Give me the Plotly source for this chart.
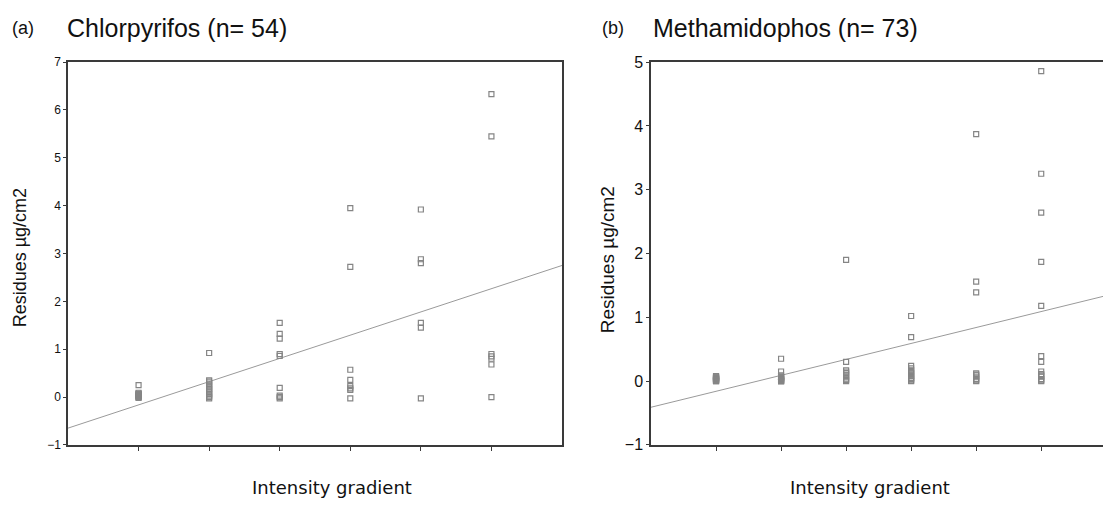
import plotly.graph_objects as go

W, H = 1103, 508

# ---- data: (a) Chlorpyrifos ----
grad_levels = [1, 2, 3, 4, 5, 6]
chl_g1 = [0.25, 0.09, 0.07, 0.06, 0.05, 0.04, 0.03, 0.02, 0.01, 0.0, -0.02]
chl_g2 = [0.92, 0.35, 0.32, 0.28, 0.24, 0.2, 0.17, 0.14, 0.1, 0.06, 0.03, 0.0, -0.03]
chl_g3 = [1.55, 1.32, 1.22, 0.9, 0.86, 0.19, 0.03, 0.0, -0.03]
chl_g4 = [3.95, 2.72, 0.57, 0.36, 0.23, 0.18, 0.15, -0.03]
chl_g5 = [3.92, 2.88, 2.8, 1.55, 1.45, -0.03]
chl_g6 = [6.33, 5.45, 0.9, 0.85, 0.8, 0.68, 0.0]
chl_fit_x = [0, 7]
chl_fit_y = [-0.65, 2.75]

# ---- data: (b) Methamidophos ----
met_g1 = [0.08, 0.07, 0.06, 0.05, 0.05, 0.04, 0.03, 0.03, 0.02, 0.01, 0.01, 0.0, 0.0]
met_g2 = [0.35, 0.15, 0.09, 0.07, 0.06, 0.05, 0.04, 0.03, 0.02, 0.01, 0.0, 0.0, 0.0]
met_g3 = [1.9, 0.3, 0.17, 0.15, 0.13, 0.1, 0.07, 0.04, 0.02, 0.0]
met_g4 = [1.02, 0.69, 0.24, 0.2, 0.17, 0.14, 0.12, 0.1, 0.08, 0.05, 0.03, 0.01, 0.0]
met_g5 = [3.87, 1.56, 1.39, 0.12, 0.1, 0.09, 0.06, 0.03, 0.01, 0.0]
met_g6 = [4.86, 3.25, 2.64, 1.87, 1.18, 0.39, 0.3, 0.15, 0.11, 0.09, 0.07, 0.03, 0.01, 0.0]
met_fit_x = [0, 7]
met_fit_y = [-0.41, 1.34]

title_a = "Chlorpyrifos (n= 54)"
title_b = "Methamidophos (n= 73)"
y_title = "Residues µg/cm2"
x_title = "Intensity gradient"


def flatten(groups):
    xs, ys = [], []
    for lvl, g in zip(grad_levels, groups):
        xs += [lvl] * len(g)
        ys += g
    return xs, ys


ax_x, ax_y = flatten([chl_g1, chl_g2, chl_g3, chl_g4, chl_g5, chl_g6])
bx_x, bx_y = flatten([met_g1, met_g2, met_g3, met_g4, met_g5, met_g6])

MK = dict(symbol="square-open", size=5, color="#858585", line=dict(width=1.2, color="#858585"))
LN = dict(color="#9a9a9a", width=1)

fig = go.Figure()
fig.add_trace(go.Scatter(x=chl_fit_x, y=chl_fit_y, mode="lines", line=LN,
                         xaxis="x", yaxis="y", hoverinfo="skip"))
fig.add_trace(go.Scatter(x=ax_x, y=ax_y, mode="markers", marker=MK, xaxis="x", yaxis="y"))
fig.add_trace(go.Scatter(x=met_fit_x, y=met_fit_y, mode="lines", line=LN,
                         xaxis="x2", yaxis="y2", hoverinfo="skip"))
fig.add_trace(go.Scatter(x=bx_x, y=bx_y, mode="markers", marker=MK, xaxis="x2", yaxis="y2"))

AXC = "#3a3a3a"
ydom = [56 / H, 452 / H]
common_x = dict(showgrid=False, zeroline=False, showline=True, linecolor=AXC, linewidth=1.5,
                ticks="outside", ticklen=4, tickcolor=AXC, tickvals=grad_levels,
                showticklabels=False, fixedrange=True)
common_y = dict(showgrid=False, zeroline=False, showline=True, linecolor=AXC, linewidth=1.5,
                ticks="outside", ticklen=3, tickcolor=AXC, dtick=1, fixedrange=True)

fig.update_layout(
    width=W, height=H, margin=dict(l=0, r=0, t=0, b=0),
    paper_bgcolor="white", plot_bgcolor="white", showlegend=False,
    font=dict(family="Liberation Sans, Arial, sans-serif", color="#111"),
    xaxis=dict(common_x, domain=[68 / W, 562 / W], range=[0, 7], mirror=True, anchor="y"),
    yaxis=dict(common_y, domain=ydom, range=[-1, 7], mirror=True, anchor="x",
               tickfont=dict(size=12, color="#111")),
    xaxis2=dict(common_x, domain=[651 / W, 1.0], range=[0, 6.95], mirror=True, anchor="y2"),
    yaxis2=dict(common_y, domain=ydom, range=[-1, 5], mirror=False, anchor="x2",
                tickfont=dict(size=16, color="#111")),
)


def ann(text, px, py, size, family="Liberation Sans, Arial, sans-serif", angle=0, xanchor="center"):
    fig.add_annotation(text=text, x=px / W, y=1 - py / H, xref="paper", yref="paper",
                       showarrow=False, textangle=angle, xanchor=xanchor, yanchor="middle",
                       font=dict(size=size, family=family, color="#111"))


ann("(a)", 10, 21, 18, xanchor="left")
ann(title_a, 65, 21, 25, xanchor="left")
ann("(b)", 600, 21, 18, xanchor="left")
ann(title_b, 651, 21, 25, xanchor="left")
ann(y_title, 20, 259, 18, angle=-90)
ann(y_title, 607, 260, 19, angle=-90)
ann(x_title, 332, 496, 18, family="DejaVu Sans, sans-serif")
ann(x_title, 870, 496, 18, family="DejaVu Sans, sans-serif")

fig.write_html(
    "out.html",
    config={"displayModeBar": False},
    post_script="document.body.style.margin='0';document.body.style.overflow='hidden';",
)
